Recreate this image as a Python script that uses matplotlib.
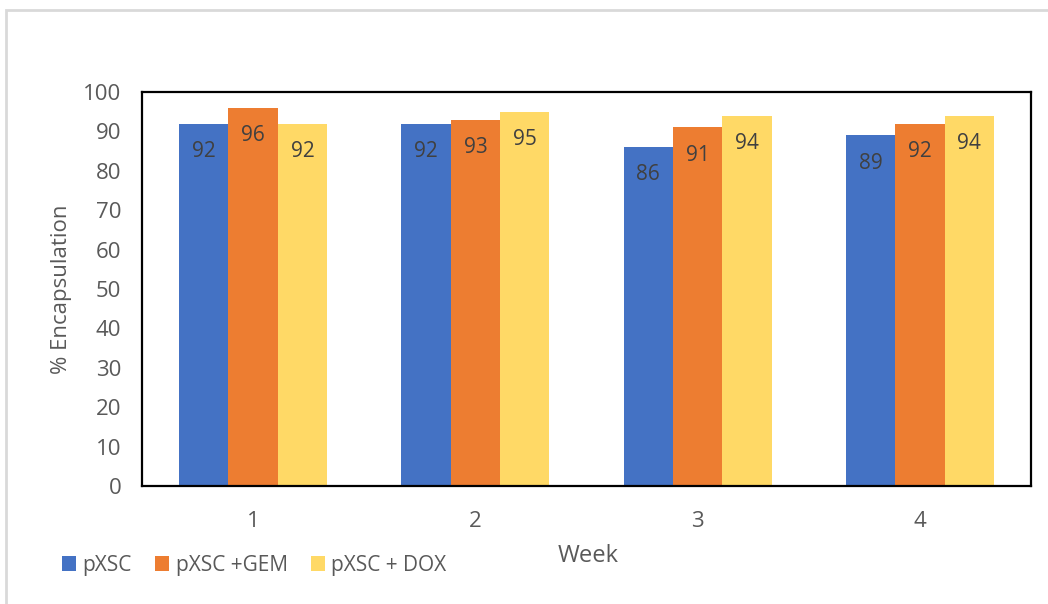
import matplotlib.pyplot as plt
import numpy as np
from matplotlib.patches import Rectangle

plt.rcParams['font.family'] = ['Open Sans', 'DejaVu Sans']

# Данные
weeks = ["1", "2", "3", "4"]
series_names = ["pXSC", "pXSC +GEM", "pXSC + DOX"]
pxsc = [92, 92, 86, 89]
pxsc_gem = [96, 93, 91, 92]
pxsc_dox = [92, 95, 94, 94]
y_ticks = [0, 10, 20, 30, 40, 50, 60, 70, 80, 90, 100]

colors = ['#4472C4', '#ED7D31', '#FFD966']
tick_color = '#595959'
label_color = '#404040'

fig = plt.figure(figsize=(10.48, 6.04), dpi=100)
ax = fig.add_axes([0.1355, 0.1954, 0.8483, 0.6523])

# светло-серая рамка вокруг области диаграммы
fig.patches.append(Rectangle((0.006, -0.1), 1.1, 1.084, transform=fig.transFigure,
                             fill=False, edgecolor='#D9D9D9', linewidth=2))

x = np.arange(1, len(weeks) + 1)
width = 0.222
for i, (vals, name) in enumerate(zip([pxsc, pxsc_gem, pxsc_dox], series_names)):
    pos = x + (i - 1) * width
    bars = ax.bar(pos, vals, width=width, color=colors[i], label=name, zorder=2)
    for b, v in zip(bars, vals):
        ax.annotate(str(v), (b.get_x() + b.get_width() / 2, v),
                    xytext=(0, -20), textcoords='offset points',
                    ha='center', va='center', fontsize=15, color=label_color)

ax.set_xlim(0.5, 4.5)
ax.set_ylim(0, 100)
ax.set_yticks(y_ticks)
ax.set_xticks(x)
ax.set_xticklabels(weeks)
ax.tick_params(axis='both', length=0, labelsize=16, labelcolor=tick_color)
ax.tick_params(axis='y', pad=15)
ax.tick_params(axis='x', pad=18)

for s in ax.spines.values():
    s.set_color('black')
    s.set_linewidth(1.6)

ax.set_ylabel("% Encapsulation", fontsize=16, color=tick_color, labelpad=8)
fig.text(0.561, 0.079, "Week", fontsize=17, color=tick_color, ha='center', va='center')

ax.legend(loc='center left', bbox_to_anchor=(0.049, 0.064), bbox_transform=fig.transFigure,
          ncol=3, frameon=False, fontsize=15, handlelength=0.7, handleheight=0.7,
          handletextpad=0.3, columnspacing=1.1, labelcolor=tick_color, borderpad=0)

plt.savefig("out.png", dpi=100)
